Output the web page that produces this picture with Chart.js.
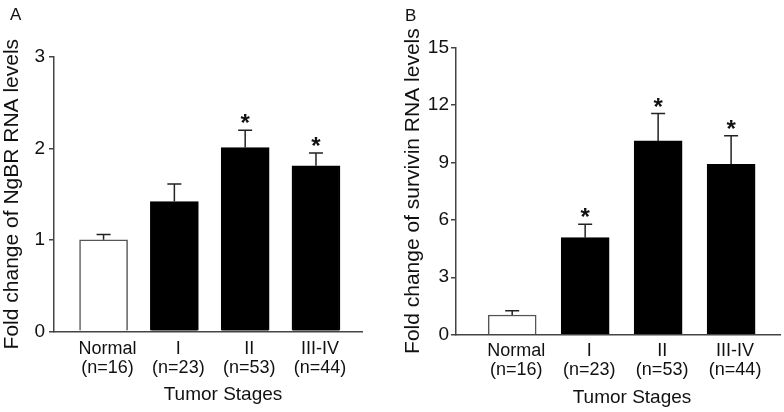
<!DOCTYPE html>
<html>
<head>
<meta charset="utf-8">
<script src="https://cdn.jsdelivr.net/npm/chart.js@4"></script>
<style>
  html, body { margin: 0; padding: 0; background: #fff; }
  #wrap { position: relative; width: 784px; height: 412px; }
  .panel { position: absolute; top: 0; width: 392px; height: 412px; }
  .tag { position: absolute; font: 17px "Liberation Sans", Arial, sans-serif; color: #111; }
</style>
</head>
<body>
<div id="wrap">
  <div class="panel" style="left:0"><canvas id="ngbrChart" width="392" height="412"></canvas></div>
  <div class="panel" style="left:392px"><canvas id="survivinChart" width="392" height="412"></canvas></div>
  <div class="tag" style="left:10px;top:5px">A</div>
  <div class="tag" style="left:405px;top:6px">B</div>
</div>
<script>
// categories
const stages = [['Normal', '(n=16)'], ['I', '(n=23)'], ['II', '(n=53)'], ['III-IV', '(n=44)']];
const xTitle = 'Tumor Stages';

// panel A - NgBR
const ngbrMean = [1.0, 1.42, 2.01, 1.81];
const ngbrErr = [0.06, 0.19, 0.19, 0.14];
const ngbrSig = [false, false, true, true];
const ngbrTicks = [0, 1, 2, 3];

// panel B - survivin
const survivinMean = [1.03, 5.07, 10.12, 8.9];
const survivinErr = [0.22, 0.70, 1.43, 1.49];
const survivinSig = [false, true, true, true];
const survivinTicks = [0, 3, 6, 9, 12, 15];

Chart.defaults.font.family = '"Liberation Sans", Arial, sans-serif';
Chart.defaults.color = '#111';
Chart.defaults.animation = false;

// upper error bars + significance stars + x axis title
const errorBars = {
  id: 'errorBars',
  afterDatasetsDraw(chart, args, opts) {
    const ctx = chart.ctx;
    const x = chart.scales.x;
    const y = chart.scales.y;
    ctx.save();
    ctx.strokeStyle = '#222';
    ctx.lineWidth = 1.5;
    opts.mean.forEach(function(m, i) {
      const px = x.getPixelForValue(i);
      const y0 = y.getPixelForValue(m);
      const y1 = y.getPixelForValue(m + opts.err[i]);
      ctx.beginPath();
      ctx.moveTo(px, y0);
      ctx.lineTo(px, y1);
      ctx.moveTo(px - 7, y1);
      ctx.lineTo(px + 7, y1);
      ctx.stroke();
      if (opts.sig[i]) {
        ctx.fillStyle = '#111';
        ctx.font = 'bold 24px "Liberation Sans", Arial, sans-serif';
        ctx.textAlign = 'center';
        ctx.textBaseline = 'alphabetic';
        ctx.fillText('*', px, y1 + 1);
      }
    });
    // axis title, a bit right of the axis centre like the original
    ctx.fillStyle = '#111';
    ctx.font = '19px "Liberation Sans", Arial, sans-serif';
    ctx.textAlign = 'center';
    ctx.textBaseline = 'middle';
    ctx.fillText(xTitle, (x.left + x.right) / 2 + opts.titleShift, x.bottom - opts.titleBottom);
    ctx.restore();
  }
};

function createPanel(id, cfg) {
  const el = document.getElementById(id);
  new Chart(el, {
    type: 'bar',
    data: {
      datasets: [{
        data: cfg.mean.map(function(v, i) { return {x: i, y: v}; }),
        backgroundColor: ['#fff', '#000', '#000', '#000'],
        borderColor: ['#555', '#000', '#000', '#000'],
        borderWidth: 1.5,
        barThickness: 48
      }]
    },
    options: {
      responsive: false,
      layout: { padding: cfg.pad },
      plugins: {
        legend: { display: false },
        tooltip: { enabled: false },
        errorBars: {
          mean: cfg.mean, err: cfg.err, sig: cfg.sig,
          titleShift: cfg.titleShift, titleBottom: cfg.titleBottom
        }
      },
      scales: {
        x: {
          type: 'linear',
          offset: false,
          min: cfg.xMin,
          max: cfg.xMax,
          grid: { display: false, offset: false },
          border: { display: true, color: '#444', width: 1.5 },
          afterBuildTicks: function(s) {
            s.ticks = stages.map(function(_, i) { return {value: i}; });
          },
          afterFit: function(s) { s.height = cfg.xHeight; },
          ticks: {
            autoSkip: false,
            maxRotation: 0,
            padding: cfg.xTickPad,
            labelOffset: 4,
            font: { size: 18, lineHeight: 1.05 },
            callback: function(v) { return stages[v]; }
          }
        },
        y: {
          min: 0,
          max: cfg.ticks[cfg.ticks.length - 1],
          grid: { drawOnChartArea: false, drawTicks: true, tickLength: 5, color: '#444', lineWidth: 1.5 },
          border: { display: true, color: '#444', width: 1.5 },
          afterBuildTicks: function(s) {
            s.ticks = cfg.ticks.map(function(v) { return {value: v}; });
          },
          afterFit: function(s) { s.width = cfg.yWidth; },
          ticks: { padding: cfg.tickPad, font: { size: 19 } },
          title: {
            display: true,
            text: cfg.yTitle,
            font: { size: 21 },
            padding: { top: cfg.yTitlePad, bottom: 0 }
          }
        }
      }
    },
    plugins: [errorBars]
  });
}

createPanel('ngbrChart', {
  mean: ngbrMean, err: ngbrErr, sig: ngbrSig, ticks: ngbrTicks,
  yTitle: 'Fold change of NgBR RNA levels',
  xMin: -0.70, xMax: 3.65,
  pad: { left: 0, top: 57, right: 30, bottom: 0 },
  yWidth: 54, xHeight: 80.7, tickPad: 4, yTitlePad: 0,
  xTickPad: 0, titleShift: 15, titleBottom: 17
});

createPanel('survivinChart', {
  mean: survivinMean, err: survivinErr, sig: survivinSig, ticks: survivinTicks,
  yTitle: 'Fold change of survivin RNA levels',
  xMin: -0.77, xMax: 3.67,
  pad: { left: 0, top: 47.5, right: 4, bottom: 0 },
  yWidth: 64, xHeight: 77.3, tickPad: 2, yTitlePad: 9,
  xTickPad: -1, titleShift: 14, titleBottom: 14
});
</script>
</body>
</html>
